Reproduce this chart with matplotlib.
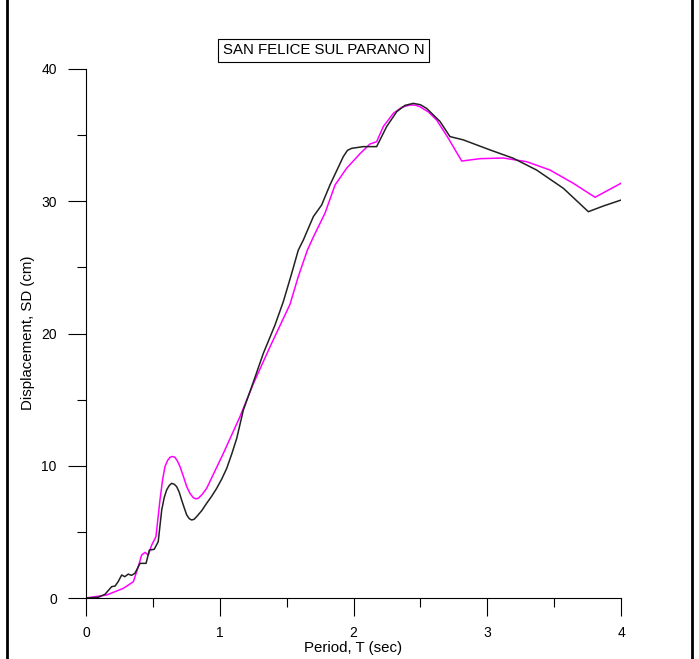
import matplotlib

matplotlib.use("Agg")
import matplotlib.pyplot as plt
from matplotlib.lines import Line2D
from matplotlib.ticker import MultipleLocator

plt.rcParams["font.family"] = ["Liberation Sans", "DejaVu Sans"]

TITLE = "SAN FELICE SUL PARANO N"
XLABEL = "Period, T (sec)"
YLABEL = "Displacement, SD (cm)"

# recorded spectrum (black)
rec_t = [0.0, 0.092, 0.142, 0.192, 0.217, 0.24, 0.267, 0.29, 0.316, 0.34, 0.366,
         0.404, 0.449, 0.474, 0.51, 0.54, 0.566, 0.585, 0.603, 0.622, 0.64, 0.66, 0.678,
         0.697, 0.715, 0.735, 0.753, 0.772, 0.79, 0.808, 0.827, 0.865, 0.902, 0.94,
         0.977, 1.015, 1.052, 1.09, 1.127, 1.176, 1.239, 1.326, 1.413, 1.475,
         1.538, 1.587, 1.625, 1.7, 1.762, 1.824, 1.924, 1.955, 1.986, 2.073, 2.173, 2.248,
         2.323, 2.385, 2.447, 2.5, 2.547, 2.647, 2.721, 2.821, 3.021, 3.195, 3.369, 3.569,
         3.756, 3.868, 4.0]
rec_sd = [0.0, 0.05, 0.28, 0.86, 0.9, 1.23, 1.74, 1.61, 1.81, 1.71, 1.87,
          2.62, 2.62, 3.63, 3.68, 4.26, 6.65, 7.6, 8.17, 8.5, 8.67, 8.6, 8.42,
          8.0, 7.41, 6.8, 6.28, 6.0, 5.9, 5.95, 6.15, 6.6, 7.16, 7.7,
          8.29, 9.0, 9.8, 10.9, 12.07, 14.2, 15.98, 18.5, 20.64, 22.4,
          24.55, 26.3, 27.07, 28.84, 29.72, 31.23, 33.38, 33.85, 34.0, 34.13, 34.13, 35.65,
          36.77, 37.25, 37.4, 37.3, 37.02, 36.03, 34.89, 34.64, 33.88, 33.25, 32.36, 30.98,
          29.21, 29.64, 30.09]

# target spectrum (magenta)
tgt_t = [0.0, 0.155, 0.279, 0.354, 0.391, 0.416, 0.441, 0.466, 0.491, 0.523, 0.553,
         0.572, 0.59, 0.61, 0.628, 0.646, 0.665, 0.684, 0.703, 0.728, 0.753, 0.778, 0.802,
         0.82, 0.84, 0.87, 0.902, 1.027, 1.151, 1.251,
         1.376, 1.525, 1.587, 1.655, 1.7, 1.787, 1.862, 1.949, 2.049, 2.123, 2.173,
         2.223, 2.298, 2.36, 2.422, 2.46, 2.497, 2.56, 2.622, 2.709, 2.809, 2.946, 3.12,
         3.295, 3.469, 3.643, 3.806, 4.0]
tgt_sd = [0.0, 0.23, 0.73, 1.23, 2.37, 3.25, 3.45, 3.25, 4.0, 4.64, 7.41,
          8.9, 9.93, 10.4, 10.64, 10.7, 10.64, 10.35, 9.93, 9.2, 8.42, 7.9, 7.59,
          7.5, 7.54, 7.85, 8.29, 10.94, 13.71, 16.2,
          19.0, 22.2, 24.3, 26.3, 27.3, 29.1, 31.23, 32.5, 33.6, 34.33, 34.5,
          35.65, 36.65, 37.1, 37.28, 37.27, 37.15, 36.75, 36.14, 34.76, 33.04, 33.22, 33.27,
          32.99, 32.36, 31.36, 30.3, 31.36]

fig = plt.figure(figsize=(6.99, 6.59), dpi=100)
ax = fig.add_axes([86 / 699, 61 / 659, 535 / 699, 529 / 659])

ax.plot(tgt_t, tgt_sd, color="#ff00ff", linewidth=1.1)
ax.plot(rec_t, rec_sd, color="#222222", linewidth=1.1)

ax.set_xlim(0, 4)
ax.set_ylim(0, 40)
ax.xaxis.set_major_locator(MultipleLocator(1))
ax.xaxis.set_minor_locator(MultipleLocator(0.5))
ax.yaxis.set_major_locator(MultipleLocator(10))
ax.yaxis.set_minor_locator(MultipleLocator(5))
ax.tick_params(which="major", direction="out", length=13, width=0.8, labelsize=10, pad=7)
ax.tick_params(which="minor", direction="out", length=6.5, width=0.8)
ax.tick_params(axis="y", pad=8)
for side in ("top", "right"):
    ax.spines[side].set_visible(False)
for side in ("left", "bottom"):
    ax.spines[side].set_linewidth(0.8)

fig.text(353.5 / 699, 1 - 648 / 659, XLABEL, ha="center", va="center", fontsize=10.8)
fig.text(28 / 699, 1 - 333 / 659, YLABEL, ha="center", va="center", rotation=90, fontsize=10.8)
fig.text(323.5 / 699, 1 - 50.5 / 659, TITLE, ha="center", va="center", fontsize=10.8,
         bbox=dict(boxstyle="square,pad=0.3", facecolor="white", edgecolor="black", linewidth=0.8))

# page frame on left and right
for xpix in (6.5, 691.5):
    fig.add_artist(Line2D([xpix / 699, xpix / 699], [0, 1], color="black", linewidth=2.0,
                          transform=fig.transFigure))

fig.savefig("out.png", dpi=100)
plt.close(fig)
